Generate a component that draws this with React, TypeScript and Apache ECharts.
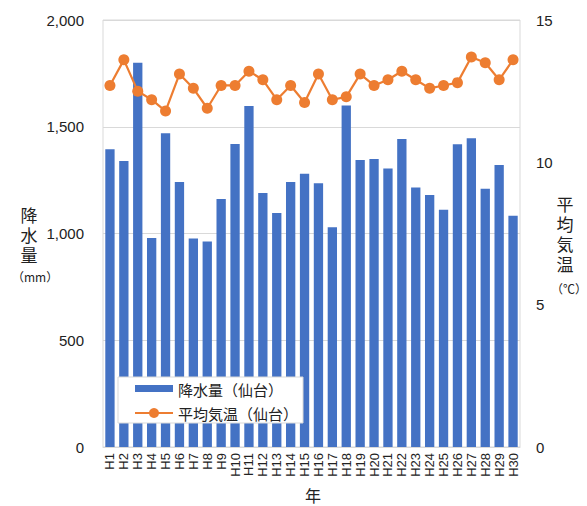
import React, { useEffect, useRef } from "react";
import * as echarts from "echarts";

const years = ["H1","H2","H3","H4","H5","H6","H7","H8","H9","H10","H11","H12","H13","H14","H15","H16","H17","H18","H19","H20","H21","H22","H23","H24","H25","H26","H27","H28","H29","H30"];
const precipitation = [1395,1340,1800,979,1470,1241,976,962,1162,1419,1597,1190,1096,1241,1280,1235,1029,1600,1344,1349,1304,1443,1215,1180,1111,1418,1446,1210,1321,1083];
const temperature = [12.7,13.6,12.5,12.2,11.8,13.1,12.6,11.9,12.7,12.7,13.2,12.9,12.2,12.7,12.1,13.1,12.2,12.3,13.1,12.7,12.9,13.2,12.9,12.6,12.7,12.8,13.7,13.5,12.9,13.6];
const seriesNames = ["降水量（仙台）", "平均気温（仙台）"];
const leftTitle = ["降", "水", "量"];
const rightTitle = ["平", "均", "気", "温"];

const JP = '"Noto Sans CJK JP", "Liberation Sans", sans-serif';
const NUM = '"Liberation Sans", Arial, sans-serif';
const BLUE = "#4472C4";
const ORANGE = "#ED7D31";

export default function App() {
  const ref = useRef<HTMLDivElement>(null);
  useEffect(() => {
    if (!ref.current) return;
    const chart = echarts.init(ref.current, null, { renderer: "svg" });
    const stacked = (chars: string[], x: number, y0: number, step: number) =>
      chars.map((c, i) => ({ type: "text", x, y: y0 + i * step, style: { text: c, font: `17px ${JP}`, lineHeight: 18, fill: "#222", align: "center", verticalAlign: "middle" } }));
    chart.setOption({
      animation: false,
      backgroundColor: "#fff",
      grid: { left: 103, right: 67, top: 20, bottom: 59, show: true, borderColor: "#d9d9d9", borderWidth: 1 },
      xAxis: {
        type: "category",
        data: years,
        axisLine: { show: true, lineStyle: { color: "#d9d9d9" } },
        axisTick: { show: false },
        axisLabel: { rotate: 90, interval: 0, fontSize: 13, color: "#222", fontFamily: NUM, margin: 6 },
      },
      yAxis: [
        {
          type: "value", min: 0, max: 2000, interval: 500,
          axisLine: { show: false }, axisTick: { show: false },
          splitLine: { lineStyle: { color: "#d9d9d9" } },
          axisLabel: { fontSize: 15, color: "#222", fontFamily: NUM, margin: 19,
            formatter: (v: number) => v.toLocaleString("en-US") },
        },
        {
          type: "value", min: 0, max: 15, interval: 5,
          axisLine: { show: false }, axisTick: { show: false }, splitLine: { show: false },
          axisLabel: { fontSize: 15, color: "#222", fontFamily: NUM, margin: 16 },
        },
      ],
      series: [
        {
          name: seriesNames[0], type: "bar", data: precipitation, yAxisIndex: 0,
          barCategoryGap: "33%", itemStyle: { color: BLUE },
        },
        {
          name: seriesNames[1], type: "line", data: temperature, yAxisIndex: 1,
          symbol: "circle", symbolSize: 11, lineStyle: { color: ORANGE, width: 2.2 },
          itemStyle: { color: ORANGE },
        },
      ],
      graphic: [
        ...stacked(leftTitle, 29, 214, 20),
        { type: "text", left: 12, top: 270, style: { text: "（mm）", font: `12px ${JP}`, fill: "#222" } },
        ...stacked(rightTitle, 565, 203, 20),
        { type: "text", left: 551, top: 282, style: { text: "（℃）", font: `12px ${JP}`, fill: "#222" } },
        { type: "text", x: 313, y: 495, style: { text: "年", font: `16px ${JP}`, fill: "#222", align: "center", verticalAlign: "middle" } },
        { type: "rect", z: 100, shape: { x: 118, y: 377, width: 185, height: 46 }, style: { fill: "#fff", stroke: "#d9d9d9", lineWidth: 1 } },
        { type: "rect", z: 101, shape: { x: 135, y: 385, width: 38, height: 7 }, style: { fill: BLUE } },
        { type: "text", z: 101, x: 178, y: 389, style: { text: seriesNames[0], font: `15px ${JP}`, fill: "#222", verticalAlign: "middle" } },
        { type: "line", z: 101, shape: { x1: 135, y1: 413, x2: 173, y2: 413 }, style: { stroke: ORANGE, lineWidth: 2 } },
        { type: "circle", z: 102, shape: { cx: 154, cy: 413, r: 5 }, style: { fill: ORANGE } },
        { type: "text", z: 101, x: 178, y: 413, style: { text: seriesNames[1], font: `15px ${JP}`, fill: "#222", verticalAlign: "middle" } },
      ],
    });
    return () => chart.dispose();
  }, []);
  return <div ref={ref} style={{ position: "fixed", left: 0, top: 0, width: 587, height: 506 }} />;
}
